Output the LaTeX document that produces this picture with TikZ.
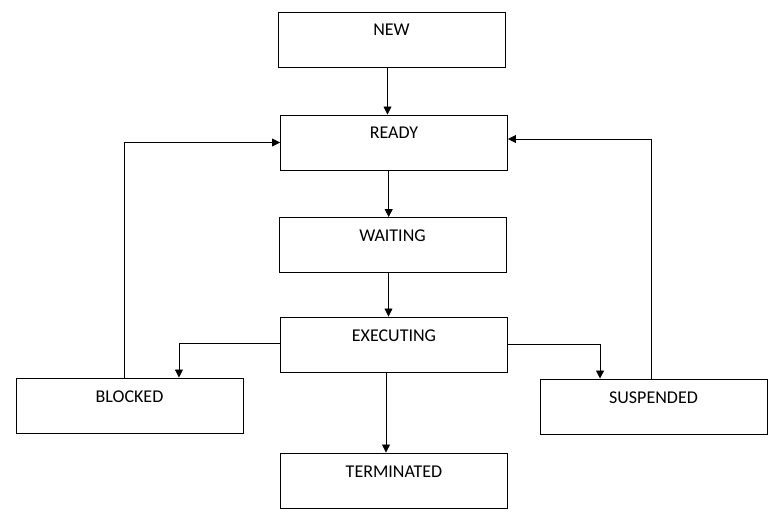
\documentclass[tikz,border=0pt]{standalone}
\usepackage{fontspec}
\setmainfont{Carlito}
\usepackage{tikz}
\usetikzlibrary{positioning,arrows.meta}

\begin{document}
\begin{tikzpicture}[x=0.75pt, y=-0.75pt,
    state/.style={draw, rectangle, line width=0.7pt, minimum width=170.25pt,
        inner sep=0pt, text height=18pt, text depth=23.25pt,
        font=\fontsize{13.5}{16}\selectfont},
    arr/.style={line width=0.6pt, -{Triangle[length=6pt,width=6pt]}}]

    \useasboundingbox (0,0) rectangle (774,520);

    % States
    \node[state] (new) at (391.5,39.5) {NEW};
    \node[state] (ready) at (394,142.5) {READY};
    \node[state] (waiting) at (392.5,245) {WAITING};
    \node[state] (exec) at (394,344.5) {EXECUTING};
    \node[state] (blocked) at (129.5,405.5) {BLOCKED};
    \node[state] (susp) at (653.5,406.5) {SUSPENDED};
    \node[state] (term) at (394,480.5) {TERMINATED};

    % Main column
    \draw[arr] ([xshift=-3pt]new.south) -- ([xshift=-3pt]new.south |- ready.north);
    \draw[arr] ([xshift=-4pt]ready.south) -- ([xshift=-4pt]ready.south |- waiting.north);
    \draw[arr] ([xshift=-3pt]waiting.south) -- ([xshift=-3pt]waiting.south |- exec.north);
    \draw[arr] ([xshift=-6pt]exec.south) -- ([xshift=-6pt]exec.south |- term.north);

    % Side branches
    \draw[arr] ([yshift=1pt]exec.west) -| ([xshift=37.1pt]blocked.north);
    \draw[arr] (exec.east) -| ([xshift=-40.1pt]susp.north);

    % Back to READY
    \draw[arr] ([xshift=-4.1pt]blocked.north) |- (ready.west);
    \draw[arr] ([xshift=-1.9pt]susp.north) |- ([yshift=2.6pt]ready.east);

\end{tikzpicture}
\end{document}
